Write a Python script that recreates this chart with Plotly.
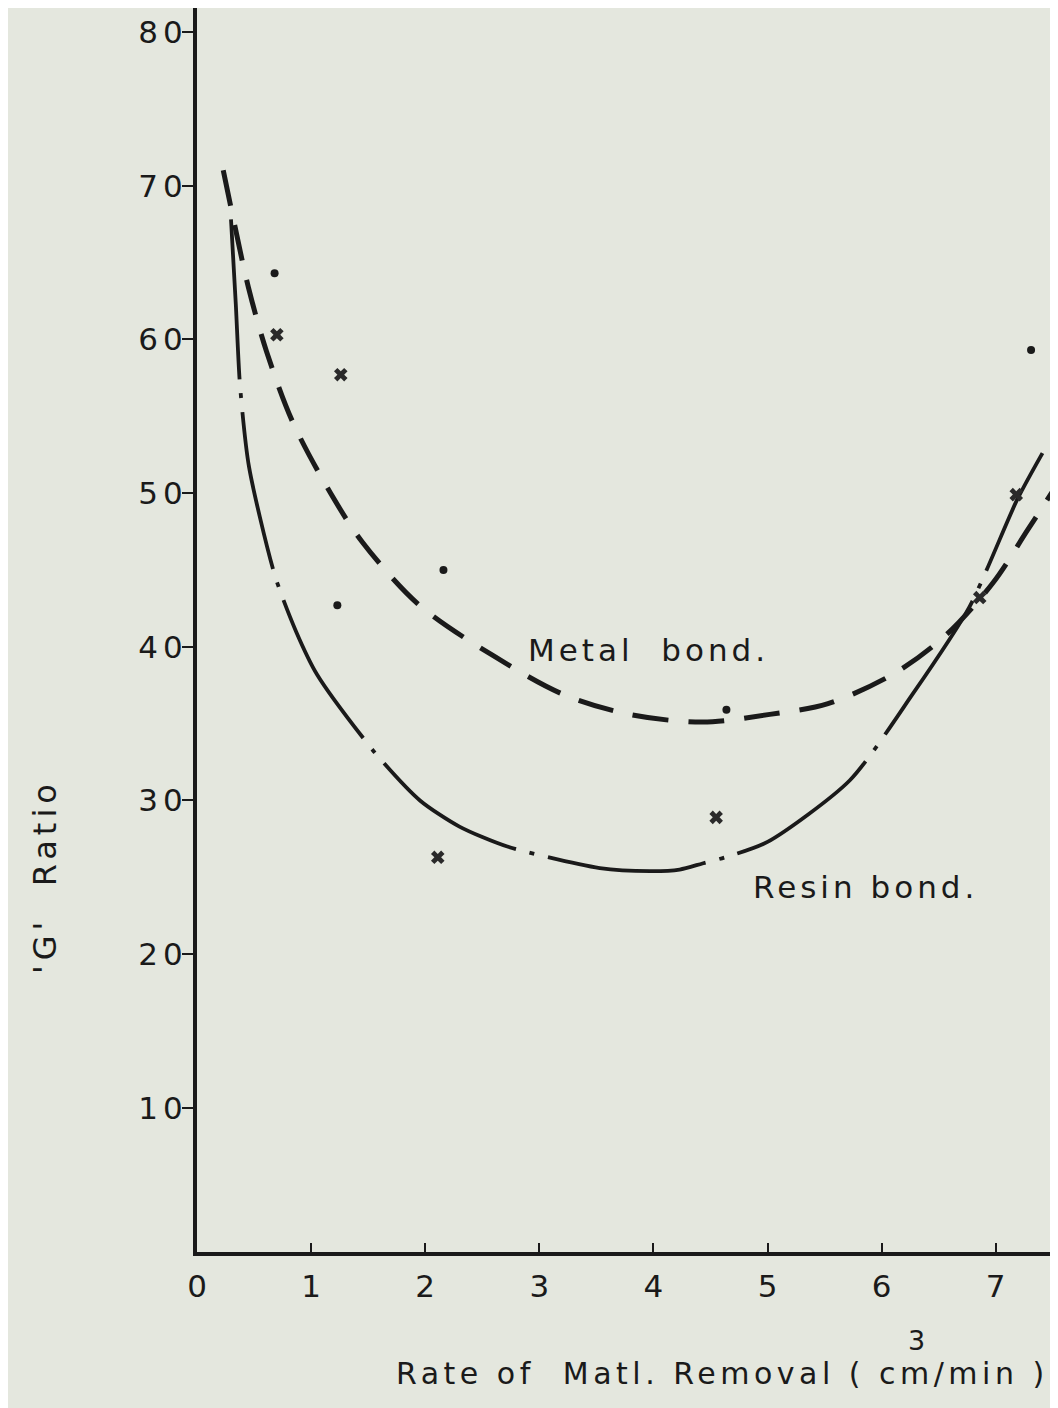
import plotly.graph_objects as go

# ---- data ----
# Metal bond fitted curve (dashed)
metal_x = [0.23, 0.30, 0.45, 0.61, 0.84, 1.17, 1.45, 1.95, 2.6, 3.21, 3.79, 4.43, 5.02, 5.53, 6.12, 6.57, 6.98, 7.28, 7.55]
metal_y = [71.0, 68.5, 63.4, 59.2, 54.6, 50.0, 46.8, 42.7, 39.4, 36.9, 35.6, 35.1, 35.6, 36.3, 38.3, 40.8, 44.2, 47.6, 50.7]

# Resin bond fitted curve (dash-dot)
resin_x = [0.298, 0.34, 0.377, 0.456, 0.684, 0.868, 1.052, 1.56, 1.954, 2.30, 2.72, 3.53, 3.97, 4.23, 4.43, 4.63, 5.00, 5.72, 6.27, 6.77, 7.19, 7.41]
resin_y = [67.8, 62.3, 57.0, 51.7, 44.6, 41.0, 38.2, 33.1, 30.0, 28.3, 27.0, 25.6, 25.4, 25.5, 25.9, 26.3, 27.3, 31.3, 36.9, 42.6, 49.6, 52.6]

# Data points: dots
dot_x = [0.68, 1.23, 2.16, 4.64, 7.31]
dot_y = [64.3, 42.7, 45.0, 35.9, 59.3]

# Data points: crosses
cross_x = [0.70, 1.26, 2.11, 4.55, 7.18, 6.86]
cross_y = [60.3, 57.7, 26.3, 28.9, 49.9, 43.2]

x_ticks = [0, 1, 2, 3, 4, 5, 6, 7]
y_ticks = [10, 20, 30, 40, 50, 60, 70, 80]

FONT = "DejaVu Sans"
INK = "#1a1a1a"
PAPER = "#e4e7de"


def spaced(t, px):
    return '<span style="letter-spacing:%spx">%s</span>' % (px, t)


fig = go.Figure()

fig.add_trace(go.Scatter(
    x=metal_x, y=metal_y, mode="lines", line_shape="spline", line_smoothing=0.9,
    line=dict(color=INK, width=5, dash="36px,20px"), name="Metal bond",
    showlegend=False, hoverinfo="skip"))

fig.add_trace(go.Scatter(
    x=resin_x, y=resin_y, mode="lines", line_shape="spline", line_smoothing=0.7,
    line=dict(color=INK, width=3.8, dash="160px,14px,5px,14px"), name="Resin bond",
    showlegend=False, hoverinfo="skip"))

fig.add_trace(go.Scatter(
    x=dot_x, y=dot_y, mode="markers",
    marker=dict(symbol="circle", size=8, color=INK), showlegend=False))

fig.add_trace(go.Scatter(
    x=cross_x, y=cross_y, mode="markers",
    marker=dict(symbol="x", size=12, color="#2a2a2a", line=dict(width=0)), showlegend=False))

fig.add_annotation(x=3.953, y=39.8, xref="x", yref="y", text=spaced("Metal  bond.", 4),
                   xanchor="center", yanchor="middle",
                   showarrow=False, font=dict(family=FONT, size=31, color=INK))
fig.add_annotation(x=5.863, y=24.4, xref="x", yref="y", text=spaced("Resin bond.", 4),
                   xanchor="center", yanchor="middle",
                   showarrow=False, font=dict(family=FONT, size=31, color=INK))

# x-axis title (with the cube superscript written above the "m")
fig.add_annotation(x=(722 - 197) / 861, y=(1252 - 1373) / 1244, xref="paper", yref="paper",
                   xanchor="center", yanchor="middle",
                   text=spaced("Rate of  Matl. Removal ( cm/min )", 4.5), showarrow=False,
                   font=dict(family=FONT, size=30, color=INK))
fig.add_annotation(x=(916 - 197) / 861, y=(1252 - 1340) / 1244, xref="paper", yref="paper",
                   xanchor="center", yanchor="middle",
                   text="3", showarrow=False,
                   font=dict(family=FONT, size=27, color=INK))
# y-axis title
fig.add_annotation(x=(45 - 197) / 861, y=(1252 - 877) / 1244, xref="paper", yref="paper",
                   xanchor="center", yanchor="middle",
                   text=spaced("'G'  Ratio", 5), textangle=-90, showarrow=False,
                   font=dict(family=FONT, size=32, color=INK))

fig.update_layout(
    width=1050, height=1400,
    margin=dict(l=189, r=0, t=0, b=156),
    paper_bgcolor=PAPER, plot_bgcolor=PAPER,
    font=dict(family=FONT, size=29, color=INK),
)
fig.update_xaxes(
    range=[0, 7.546], tickvals=x_ticks, ticktext=[str(v) for v in x_ticks],
    ticks="inside", ticklen=9, tickwidth=2, tickcolor=INK, ticklabelstandoff=4,
    showline=True, linecolor=INK, linewidth=4, showgrid=False, zeroline=False,
    tickfont=dict(family=FONT, size=31, color=INK),
)
fig.update_yaxes(
    range=[0.62, 81.56], tickvals=y_ticks, ticktext=[spaced(str(v), 5) for v in y_ticks],
    ticks="outside", ticklen=11, tickwidth=2, tickcolor=INK, ticklabelstandoff=-12,
    showline=True, linecolor=INK, linewidth=4, showgrid=False, zeroline=False,
    tickfont=dict(family=FONT, size=31, color=INK),
)

fig.write_html("out.html")
